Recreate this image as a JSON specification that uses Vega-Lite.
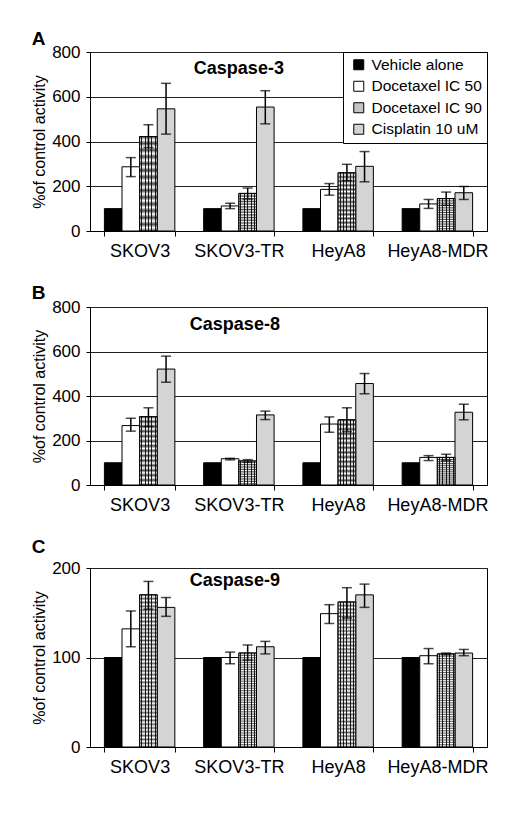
{
  "$schema": "https://vega.github.io/schema/vega-lite/v6.json",
  "padding": {"left": 31, "top": 29, "right": 5, "bottom": 5},
  "spacing": 22,
  "datasets": {
    "A": [
      {"cell": "SKOV3", "t": "Vehicle alone", "v": 100},
      {"cell": "SKOV3", "t": "Docetaxel IC 50", "v": 287, "lo": 243, "hi": 328},
      {"cell": "SKOV3", "t": "Docetaxel IC 90", "v": 422, "lo": 373, "hi": 475},
      {"cell": "SKOV3", "t": "Cisplatin 10 uM", "v": 546, "lo": 433, "hi": 660},
      {"cell": "SKOV3-TR", "t": "Vehicle alone", "v": 100},
      {"cell": "SKOV3-TR", "t": "Docetaxel IC 50", "v": 112, "lo": 100, "hi": 124},
      {"cell": "SKOV3-TR", "t": "Docetaxel IC 90", "v": 168, "lo": 143, "hi": 192},
      {"cell": "SKOV3-TR", "t": "Cisplatin 10 uM", "v": 554, "lo": 479, "hi": 627},
      {"cell": "HeyA8", "t": "Vehicle alone", "v": 100},
      {"cell": "HeyA8", "t": "Docetaxel IC 50", "v": 186, "lo": 160, "hi": 212},
      {"cell": "HeyA8", "t": "Docetaxel IC 90", "v": 260, "lo": 225, "hi": 298},
      {"cell": "HeyA8", "t": "Cisplatin 10 uM", "v": 289, "lo": 220, "hi": 355},
      {"cell": "HeyA8-MDR", "t": "Vehicle alone", "v": 100},
      {"cell": "HeyA8-MDR", "t": "Docetaxel IC 50", "v": 121, "lo": 101, "hi": 141},
      {"cell": "HeyA8-MDR", "t": "Docetaxel IC 90", "v": 145, "lo": 115, "hi": 174},
      {"cell": "HeyA8-MDR", "t": "Cisplatin 10 uM", "v": 171, "lo": 141, "hi": 199}
    ],
    "B": [
      {"cell": "SKOV3", "t": "Vehicle alone", "v": 100},
      {"cell": "SKOV3", "t": "Docetaxel IC 50", "v": 267, "lo": 242, "hi": 300},
      {"cell": "SKOV3", "t": "Docetaxel IC 90", "v": 307, "lo": 263, "hi": 347},
      {"cell": "SKOV3", "t": "Cisplatin 10 uM", "v": 521, "lo": 462, "hi": 579},
      {"cell": "SKOV3-TR", "t": "Vehicle alone", "v": 100},
      {"cell": "SKOV3-TR", "t": "Docetaxel IC 50", "v": 118, "lo": 113, "hi": 120},
      {"cell": "SKOV3-TR", "t": "Docetaxel IC 90", "v": 108, "lo": 102, "hi": 114},
      {"cell": "SKOV3-TR", "t": "Cisplatin 10 uM", "v": 315, "lo": 294, "hi": 332},
      {"cell": "HeyA8", "t": "Vehicle alone", "v": 100},
      {"cell": "HeyA8", "t": "Docetaxel IC 50", "v": 274, "lo": 237, "hi": 306},
      {"cell": "HeyA8", "t": "Docetaxel IC 90", "v": 293, "lo": 240, "hi": 347},
      {"cell": "HeyA8", "t": "Cisplatin 10 uM", "v": 456, "lo": 410, "hi": 501},
      {"cell": "HeyA8-MDR", "t": "Vehicle alone", "v": 100},
      {"cell": "HeyA8-MDR", "t": "Docetaxel IC 50", "v": 124, "lo": 110, "hi": 132},
      {"cell": "HeyA8-MDR", "t": "Docetaxel IC 90", "v": 124, "lo": 110, "hi": 138},
      {"cell": "HeyA8-MDR", "t": "Cisplatin 10 uM", "v": 327, "lo": 293, "hi": 363}
    ],
    "C": [
      {"cell": "SKOV3", "t": "Vehicle alone", "v": 100},
      {"cell": "SKOV3", "t": "Docetaxel IC 50", "v": 132, "lo": 112, "hi": 152},
      {"cell": "SKOV3", "t": "Docetaxel IC 90", "v": 170, "lo": 154, "hi": 185},
      {"cell": "SKOV3", "t": "Cisplatin 10 uM", "v": 156, "lo": 146, "hi": 167},
      {"cell": "SKOV3-TR", "t": "Vehicle alone", "v": 100},
      {"cell": "SKOV3-TR", "t": "Docetaxel IC 50", "v": 100, "lo": 93, "hi": 106},
      {"cell": "SKOV3-TR", "t": "Docetaxel IC 90", "v": 105, "lo": 97, "hi": 114},
      {"cell": "SKOV3-TR", "t": "Cisplatin 10 uM", "v": 112, "lo": 104, "hi": 118},
      {"cell": "HeyA8", "t": "Vehicle alone", "v": 100},
      {"cell": "HeyA8", "t": "Docetaxel IC 50", "v": 149, "lo": 138, "hi": 159},
      {"cell": "HeyA8", "t": "Docetaxel IC 90", "v": 162, "lo": 144, "hi": 178},
      {"cell": "HeyA8", "t": "Cisplatin 10 uM", "v": 170, "lo": 156, "hi": 182},
      {"cell": "HeyA8-MDR", "t": "Vehicle alone", "v": 100},
      {"cell": "HeyA8-MDR", "t": "Docetaxel IC 50", "v": 102, "lo": 93, "hi": 110},
      {"cell": "HeyA8-MDR", "t": "Docetaxel IC 90", "v": 104, "lo": 103, "hi": 105},
      {"cell": "HeyA8-MDR", "t": "Cisplatin 10 uM", "v": 105, "lo": 102, "hi": 109}
    ]
  },
  "vconcat": [
    {
      "data": {"name": "A"},
      "title": {"text": "A", "anchor": "start", "frame": "bounds", "fontSize": 19, "fontWeight": "bold", "offset": -5.5},
      "width": 397, "height": 179,
      "encoding": {
        "x": {"field": "cell", "type": "nominal", "sort": ["SKOV3", "SKOV3-TR", "HeyA8", "HeyA8-MDR"], "scale": {"paddingInner": 0.29, "paddingOuter": 0.145},
          "axis": {"title": null, "labelAngle": 0, "labelFontSize": 18, "labelPadding": 6, "tickBand": "extent", "tickSize": 5}}
      },
      "layer": [
        {"mark": {"type": "bar", "stroke": "black", "strokeWidth": 1},
          "encoding": {
            "xOffset": {"field": "t", "type": "nominal", "scale": {"domain": ["Vehicle alone", "Docetaxel IC 50", "Docetaxel IC 90", "Cisplatin 10 uM"], "paddingInner": 0}},
            "y": {"field": "v", "type": "quantitative", "title": "%of control activity", "scale": {"domain": [0, 800]},
              "axis": {"values": [0, 200, 400, 600, 800], "grid": true, "gridColor": "#222", "tickSize": 4, "labelFontSize": 17, "labelPadding": 6, "titleFontSize": 16, "titlePadding": 4, "titleFontWeight": "normal"}},
            "color": {"field": "t", "type": "nominal", "scale": {"domain": ["Vehicle alone", "Docetaxel IC 50", "Docetaxel IC 90", "Cisplatin 10 uM"], "range": ["#000000", "#ffffff", "#c4c4c4", "#d4d4d4"]},
              "legend": {"title": null, "orient": "top-right", "offset": 0, "strokeColor": "black", "fillColor": "white", "padding": 5, "symbolOffset": 3, "symbolType": "square", "symbolSize": 100, "symbolStrokeColor": "black", "symbolStrokeWidth": 1, "labelFontSize": 15.5, "labelColor": "black", "labelOffset": 5, "rowPadding": 4.5, "labelLimit": 200}}
          }},
        {"transform": [{"filter": "datum.t === 'Docetaxel IC 90'"}],
          "mark": {"type": "bar", "fill": {"gradient": "linear", "x1": 0, "y1": 0, "x2": 1, "y2": 0, "stops": [
            {"offset": 0, "color": "white"}, {"offset": 0.08, "color": "white"}, {"offset": 0.08, "color": "#222"}, {"offset": 0.14, "color": "#222"}, {"offset": 0.14, "color": "white"},
            {"offset": 0.28, "color": "white"}, {"offset": 0.28, "color": "#222"}, {"offset": 0.34, "color": "#222"}, {"offset": 0.34, "color": "white"},
            {"offset": 0.47, "color": "white"}, {"offset": 0.47, "color": "#222"}, {"offset": 0.53, "color": "#222"}, {"offset": 0.53, "color": "white"},
            {"offset": 0.66, "color": "white"}, {"offset": 0.66, "color": "#222"}, {"offset": 0.72, "color": "#222"}, {"offset": 0.72, "color": "white"},
            {"offset": 0.86, "color": "white"}, {"offset": 0.86, "color": "#222"}, {"offset": 0.92, "color": "#222"}, {"offset": 0.92, "color": "white"}, {"offset": 1, "color": "white"}]}},
          "encoding": {
            "xOffset": {"field": "t", "type": "nominal", "scale": {"domain": ["Vehicle alone", "Docetaxel IC 50", "Docetaxel IC 90", "Cisplatin 10 uM"], "paddingInner": 0}},
            "y": {"field": "v", "type": "quantitative", "title": "%of control activity"}
          }},
        {"transform": [{"filter": "datum.t === 'Docetaxel IC 90'"}],
          "mark": {"type": "bar", "stroke": "black", "strokeWidth": 1, "fill": {"gradient": "linear", "x1": 0, "y1": 0, "x2": 0, "y2": 1, "stops": [
            {"offset": 0, "color": "rgba(0,0,0,0.7)"}, {"offset": 0.0357, "color": "rgba(0,0,0,0)"}, {"offset": 0.0714, "color": "rgba(0,0,0,0.7)"}, {"offset": 0.1071, "color": "rgba(0,0,0,0)"},
            {"offset": 0.1429, "color": "rgba(0,0,0,0.7)"}, {"offset": 0.1786, "color": "rgba(0,0,0,0)"}, {"offset": 0.2143, "color": "rgba(0,0,0,0.7)"}, {"offset": 0.25, "color": "rgba(0,0,0,0)"},
            {"offset": 0.2857, "color": "rgba(0,0,0,0.7)"}, {"offset": 0.3214, "color": "rgba(0,0,0,0)"}, {"offset": 0.3571, "color": "rgba(0,0,0,0.7)"}, {"offset": 0.3929, "color": "rgba(0,0,0,0)"},
            {"offset": 0.4286, "color": "rgba(0,0,0,0.7)"}, {"offset": 0.4643, "color": "rgba(0,0,0,0)"}, {"offset": 0.5, "color": "rgba(0,0,0,0.7)"}, {"offset": 0.5357, "color": "rgba(0,0,0,0)"},
            {"offset": 0.5714, "color": "rgba(0,0,0,0.7)"}, {"offset": 0.6071, "color": "rgba(0,0,0,0)"}, {"offset": 0.6429, "color": "rgba(0,0,0,0.7)"}, {"offset": 0.6786, "color": "rgba(0,0,0,0)"},
            {"offset": 0.7143, "color": "rgba(0,0,0,0.7)"}, {"offset": 0.75, "color": "rgba(0,0,0,0)"}, {"offset": 0.7857, "color": "rgba(0,0,0,0.7)"}, {"offset": 0.8214, "color": "rgba(0,0,0,0)"},
            {"offset": 0.8571, "color": "rgba(0,0,0,0.7)"}, {"offset": 0.8929, "color": "rgba(0,0,0,0)"}, {"offset": 0.9286, "color": "rgba(0,0,0,0.7)"}, {"offset": 0.9643, "color": "rgba(0,0,0,0)"},
            {"offset": 1, "color": "rgba(0,0,0,0.7)"}]}},
          "encoding": {
            "xOffset": {"field": "t", "type": "nominal", "scale": {"domain": ["Vehicle alone", "Docetaxel IC 50", "Docetaxel IC 90", "Cisplatin 10 uM"], "paddingInner": 0}},
            "y": {"field": "v", "type": "quantitative", "title": "%of control activity"}
          }},
        {"transform": [{"filter": "datum.lo != null"}],
          "mark": {"type": "rule", "color": "black", "strokeWidth": 1.5},
          "encoding": {
            "xOffset": {"field": "t", "type": "nominal", "scale": {"domain": ["Vehicle alone", "Docetaxel IC 50", "Docetaxel IC 90", "Cisplatin 10 uM"], "paddingInner": 0}},
            "y": {"field": "lo", "type": "quantitative", "title": "%of control activity"}, "y2": {"field": "hi"}
          }},
        {"transform": [{"filter": "datum.lo != null"}],
          "mark": {"type": "tick", "color": "black", "thickness": 1.5, "size": 10},
          "encoding": {
            "xOffset": {"field": "t", "type": "nominal", "scale": {"domain": ["Vehicle alone", "Docetaxel IC 50", "Docetaxel IC 90", "Cisplatin 10 uM"], "paddingInner": 0}},
            "y": {"field": "lo", "type": "quantitative", "title": "%of control activity"}
          }},
        {"transform": [{"filter": "datum.lo != null"}],
          "mark": {"type": "tick", "color": "black", "thickness": 1.5, "size": 10},
          "encoding": {
            "xOffset": {"field": "t", "type": "nominal", "scale": {"domain": ["Vehicle alone", "Docetaxel IC 50", "Docetaxel IC 90", "Cisplatin 10 uM"], "paddingInner": 0}},
            "y": {"field": "hi", "type": "quantitative", "title": "%of control activity"}
          }},
        {"data": {"values": [{"cell": "SKOV3-TR", "ty": 722, "label": "Caspase-3"}]},
          "mark": {"type": "text", "fontSize": 18, "fontWeight": "bold", "color": "black"},
          "encoding": {"y": {"field": "ty", "type": "quantitative", "title": "%of control activity"}, "text": {"field": "label"}}}
      ]
    },
    {
      "data": {"name": "B"},
      "title": {"text": "B", "anchor": "start", "frame": "bounds", "fontSize": 19, "fontWeight": "bold", "offset": -4.5},
      "width": 397, "height": 178,
      "encoding": {
        "x": {"field": "cell", "type": "nominal", "sort": ["SKOV3", "SKOV3-TR", "HeyA8", "HeyA8-MDR"], "scale": {"paddingInner": 0.29, "paddingOuter": 0.145},
          "axis": {"title": null, "labelAngle": 0, "labelFontSize": 18, "labelPadding": 6, "tickBand": "extent", "tickSize": 5}}
      },
      "layer": [
        {"mark": {"type": "bar", "stroke": "black", "strokeWidth": 1},
          "encoding": {
            "xOffset": {"field": "t", "type": "nominal", "scale": {"domain": ["Vehicle alone", "Docetaxel IC 50", "Docetaxel IC 90", "Cisplatin 10 uM"], "paddingInner": 0}},
            "y": {"field": "v", "type": "quantitative", "title": "%of control activity", "scale": {"domain": [0, 800]},
              "axis": {"values": [0, 200, 400, 600, 800], "grid": true, "gridColor": "#222", "tickSize": 4, "labelFontSize": 17, "labelPadding": 6, "titleFontSize": 16, "titlePadding": 4, "titleFontWeight": "normal"}},
            "color": {"field": "t", "type": "nominal", "scale": {"domain": ["Vehicle alone", "Docetaxel IC 50", "Docetaxel IC 90", "Cisplatin 10 uM"], "range": ["#000000", "#ffffff", "#c4c4c4", "#d4d4d4"]}, "legend": null}
          }},
        {"transform": [{"filter": "datum.t === 'Docetaxel IC 90'"}],
          "mark": {"type": "bar", "fill": {"gradient": "linear", "x1": 0, "y1": 0, "x2": 1, "y2": 0, "stops": [
            {"offset": 0, "color": "white"}, {"offset": 0.08, "color": "white"}, {"offset": 0.08, "color": "#222"}, {"offset": 0.14, "color": "#222"}, {"offset": 0.14, "color": "white"},
            {"offset": 0.28, "color": "white"}, {"offset": 0.28, "color": "#222"}, {"offset": 0.34, "color": "#222"}, {"offset": 0.34, "color": "white"},
            {"offset": 0.47, "color": "white"}, {"offset": 0.47, "color": "#222"}, {"offset": 0.53, "color": "#222"}, {"offset": 0.53, "color": "white"},
            {"offset": 0.66, "color": "white"}, {"offset": 0.66, "color": "#222"}, {"offset": 0.72, "color": "#222"}, {"offset": 0.72, "color": "white"},
            {"offset": 0.86, "color": "white"}, {"offset": 0.86, "color": "#222"}, {"offset": 0.92, "color": "#222"}, {"offset": 0.92, "color": "white"}, {"offset": 1, "color": "white"}]}},
          "encoding": {
            "xOffset": {"field": "t", "type": "nominal", "scale": {"domain": ["Vehicle alone", "Docetaxel IC 50", "Docetaxel IC 90", "Cisplatin 10 uM"], "paddingInner": 0}},
            "y": {"field": "v", "type": "quantitative", "title": "%of control activity"}
          }},
        {"transform": [{"filter": "datum.t === 'Docetaxel IC 90'"}],
          "mark": {"type": "bar", "stroke": "black", "strokeWidth": 1, "fill": {"gradient": "linear", "x1": 0, "y1": 0, "x2": 0, "y2": 1, "stops": [
            {"offset": 0, "color": "rgba(0,0,0,0.7)"}, {"offset": 0.0357, "color": "rgba(0,0,0,0)"}, {"offset": 0.0714, "color": "rgba(0,0,0,0.7)"}, {"offset": 0.1071, "color": "rgba(0,0,0,0)"},
            {"offset": 0.1429, "color": "rgba(0,0,0,0.7)"}, {"offset": 0.1786, "color": "rgba(0,0,0,0)"}, {"offset": 0.2143, "color": "rgba(0,0,0,0.7)"}, {"offset": 0.25, "color": "rgba(0,0,0,0)"},
            {"offset": 0.2857, "color": "rgba(0,0,0,0.7)"}, {"offset": 0.3214, "color": "rgba(0,0,0,0)"}, {"offset": 0.3571, "color": "rgba(0,0,0,0.7)"}, {"offset": 0.3929, "color": "rgba(0,0,0,0)"},
            {"offset": 0.4286, "color": "rgba(0,0,0,0.7)"}, {"offset": 0.4643, "color": "rgba(0,0,0,0)"}, {"offset": 0.5, "color": "rgba(0,0,0,0.7)"}, {"offset": 0.5357, "color": "rgba(0,0,0,0)"},
            {"offset": 0.5714, "color": "rgba(0,0,0,0.7)"}, {"offset": 0.6071, "color": "rgba(0,0,0,0)"}, {"offset": 0.6429, "color": "rgba(0,0,0,0.7)"}, {"offset": 0.6786, "color": "rgba(0,0,0,0)"},
            {"offset": 0.7143, "color": "rgba(0,0,0,0.7)"}, {"offset": 0.75, "color": "rgba(0,0,0,0)"}, {"offset": 0.7857, "color": "rgba(0,0,0,0.7)"}, {"offset": 0.8214, "color": "rgba(0,0,0,0)"},
            {"offset": 0.8571, "color": "rgba(0,0,0,0.7)"}, {"offset": 0.8929, "color": "rgba(0,0,0,0)"}, {"offset": 0.9286, "color": "rgba(0,0,0,0.7)"}, {"offset": 0.9643, "color": "rgba(0,0,0,0)"},
            {"offset": 1, "color": "rgba(0,0,0,0.7)"}]}},
          "encoding": {
            "xOffset": {"field": "t", "type": "nominal", "scale": {"domain": ["Vehicle alone", "Docetaxel IC 50", "Docetaxel IC 90", "Cisplatin 10 uM"], "paddingInner": 0}},
            "y": {"field": "v", "type": "quantitative", "title": "%of control activity"}
          }},
        {"transform": [{"filter": "datum.lo != null"}],
          "mark": {"type": "rule", "color": "black", "strokeWidth": 1.5},
          "encoding": {
            "xOffset": {"field": "t", "type": "nominal", "scale": {"domain": ["Vehicle alone", "Docetaxel IC 50", "Docetaxel IC 90", "Cisplatin 10 uM"], "paddingInner": 0}},
            "y": {"field": "lo", "type": "quantitative", "title": "%of control activity"}, "y2": {"field": "hi"}
          }},
        {"transform": [{"filter": "datum.lo != null"}],
          "mark": {"type": "tick", "color": "black", "thickness": 1.5, "size": 10},
          "encoding": {
            "xOffset": {"field": "t", "type": "nominal", "scale": {"domain": ["Vehicle alone", "Docetaxel IC 50", "Docetaxel IC 90", "Cisplatin 10 uM"], "paddingInner": 0}},
            "y": {"field": "lo", "type": "quantitative", "title": "%of control activity"}
          }},
        {"transform": [{"filter": "datum.lo != null"}],
          "mark": {"type": "tick", "color": "black", "thickness": 1.5, "size": 10},
          "encoding": {
            "xOffset": {"field": "t", "type": "nominal", "scale": {"domain": ["Vehicle alone", "Docetaxel IC 50", "Docetaxel IC 90", "Cisplatin 10 uM"], "paddingInner": 0}},
            "y": {"field": "hi", "type": "quantitative", "title": "%of control activity"}
          }},
        {"data": {"values": [{"cell": "SKOV3-TR", "ty": 719, "label": "Caspase-8"}]},
          "mark": {"type": "text", "fontSize": 18, "fontWeight": "bold", "color": "black", "dx": -4},
          "encoding": {"y": {"field": "ty", "type": "quantitative", "title": "%of control activity"}, "text": {"field": "label"}}}
      ]
    },
    {
      "data": {"name": "C"},
      "title": {"text": "C", "anchor": "start", "frame": "bounds", "fontSize": 19, "fontWeight": "bold", "offset": 2.5},
      "width": 397, "height": 179,
      "encoding": {
        "x": {"field": "cell", "type": "nominal", "sort": ["SKOV3", "SKOV3-TR", "HeyA8", "HeyA8-MDR"], "scale": {"paddingInner": 0.29, "paddingOuter": 0.145},
          "axis": {"title": null, "labelAngle": 0, "labelFontSize": 18, "labelPadding": 6, "tickBand": "extent", "tickSize": 5}}
      },
      "layer": [
        {"mark": {"type": "bar", "stroke": "black", "strokeWidth": 1},
          "encoding": {
            "xOffset": {"field": "t", "type": "nominal", "scale": {"domain": ["Vehicle alone", "Docetaxel IC 50", "Docetaxel IC 90", "Cisplatin 10 uM"], "paddingInner": 0}},
            "y": {"field": "v", "type": "quantitative", "title": "%of control activity", "scale": {"domain": [0, 200]},
              "axis": {"values": [0, 100, 200], "grid": true, "gridColor": "#222", "tickSize": 4, "labelFontSize": 17, "labelPadding": 6, "titleFontSize": 16, "titlePadding": 4, "titleFontWeight": "normal"}},
            "color": {"field": "t", "type": "nominal", "scale": {"domain": ["Vehicle alone", "Docetaxel IC 50", "Docetaxel IC 90", "Cisplatin 10 uM"], "range": ["#000000", "#ffffff", "#c4c4c4", "#d4d4d4"]}, "legend": null}
          }},
        {"transform": [{"filter": "datum.t === 'Docetaxel IC 90'"}],
          "mark": {"type": "bar", "fill": {"gradient": "linear", "x1": 0, "y1": 0, "x2": 1, "y2": 0, "stops": [
            {"offset": 0, "color": "white"}, {"offset": 0.08, "color": "white"}, {"offset": 0.08, "color": "#222"}, {"offset": 0.14, "color": "#222"}, {"offset": 0.14, "color": "white"},
            {"offset": 0.28, "color": "white"}, {"offset": 0.28, "color": "#222"}, {"offset": 0.34, "color": "#222"}, {"offset": 0.34, "color": "white"},
            {"offset": 0.47, "color": "white"}, {"offset": 0.47, "color": "#222"}, {"offset": 0.53, "color": "#222"}, {"offset": 0.53, "color": "white"},
            {"offset": 0.66, "color": "white"}, {"offset": 0.66, "color": "#222"}, {"offset": 0.72, "color": "#222"}, {"offset": 0.72, "color": "white"},
            {"offset": 0.86, "color": "white"}, {"offset": 0.86, "color": "#222"}, {"offset": 0.92, "color": "#222"}, {"offset": 0.92, "color": "white"}, {"offset": 1, "color": "white"}]}},
          "encoding": {
            "xOffset": {"field": "t", "type": "nominal", "scale": {"domain": ["Vehicle alone", "Docetaxel IC 50", "Docetaxel IC 90", "Cisplatin 10 uM"], "paddingInner": 0}},
            "y": {"field": "v", "type": "quantitative", "title": "%of control activity"}
          }},
        {"transform": [{"filter": "datum.t === 'Docetaxel IC 90'"}],
          "mark": {"type": "bar", "stroke": "black", "strokeWidth": 1, "fill": {"gradient": "linear", "x1": 0, "y1": 0, "x2": 0, "y2": 1, "stops": [
            {"offset": 0, "color": "rgba(0,0,0,0.6)"}, {"offset": 0.0125, "color": "rgba(0,0,0,0)"}, {"offset": 0.025, "color": "rgba(0,0,0,0.6)"}, {"offset": 0.0375, "color": "rgba(0,0,0,0)"},
            {"offset": 0.05, "color": "rgba(0,0,0,0.6)"}, {"offset": 0.0625, "color": "rgba(0,0,0,0)"}, {"offset": 0.075, "color": "rgba(0,0,0,0.6)"}, {"offset": 0.0875, "color": "rgba(0,0,0,0)"},
            {"offset": 0.1, "color": "rgba(0,0,0,0.6)"}, {"offset": 0.1125, "color": "rgba(0,0,0,0)"}, {"offset": 0.125, "color": "rgba(0,0,0,0.6)"}, {"offset": 0.1375, "color": "rgba(0,0,0,0)"},
            {"offset": 0.15, "color": "rgba(0,0,0,0.6)"}, {"offset": 0.1625, "color": "rgba(0,0,0,0)"}, {"offset": 0.175, "color": "rgba(0,0,0,0.6)"}, {"offset": 0.1875, "color": "rgba(0,0,0,0)"},
            {"offset": 0.2, "color": "rgba(0,0,0,0.6)"}, {"offset": 0.2125, "color": "rgba(0,0,0,0)"}, {"offset": 0.225, "color": "rgba(0,0,0,0.6)"}, {"offset": 0.2375, "color": "rgba(0,0,0,0)"},
            {"offset": 0.25, "color": "rgba(0,0,0,0.6)"}, {"offset": 0.2625, "color": "rgba(0,0,0,0)"}, {"offset": 0.275, "color": "rgba(0,0,0,0.6)"}, {"offset": 0.2875, "color": "rgba(0,0,0,0)"},
            {"offset": 0.3, "color": "rgba(0,0,0,0.6)"}, {"offset": 0.3125, "color": "rgba(0,0,0,0)"}, {"offset": 0.325, "color": "rgba(0,0,0,0.6)"}, {"offset": 0.3375, "color": "rgba(0,0,0,0)"},
            {"offset": 0.35, "color": "rgba(0,0,0,0.6)"}, {"offset": 0.3625, "color": "rgba(0,0,0,0)"}, {"offset": 0.375, "color": "rgba(0,0,0,0.6)"}, {"offset": 0.3875, "color": "rgba(0,0,0,0)"},
            {"offset": 0.4, "color": "rgba(0,0,0,0.6)"}, {"offset": 0.4125, "color": "rgba(0,0,0,0)"}, {"offset": 0.425, "color": "rgba(0,0,0,0.6)"}, {"offset": 0.4375, "color": "rgba(0,0,0,0)"},
            {"offset": 0.45, "color": "rgba(0,0,0,0.6)"}, {"offset": 0.4625, "color": "rgba(0,0,0,0)"}, {"offset": 0.475, "color": "rgba(0,0,0,0.6)"}, {"offset": 0.4875, "color": "rgba(0,0,0,0)"},
            {"offset": 0.5, "color": "rgba(0,0,0,0.6)"}, {"offset": 0.5125, "color": "rgba(0,0,0,0)"}, {"offset": 0.525, "color": "rgba(0,0,0,0.6)"}, {"offset": 0.5375, "color": "rgba(0,0,0,0)"},
            {"offset": 0.55, "color": "rgba(0,0,0,0.6)"}, {"offset": 0.5625, "color": "rgba(0,0,0,0)"}, {"offset": 0.575, "color": "rgba(0,0,0,0.6)"}, {"offset": 0.5875, "color": "rgba(0,0,0,0)"},
            {"offset": 0.6, "color": "rgba(0,0,0,0.6)"}, {"offset": 0.6125, "color": "rgba(0,0,0,0)"}, {"offset": 0.625, "color": "rgba(0,0,0,0.6)"}, {"offset": 0.6375, "color": "rgba(0,0,0,0)"},
            {"offset": 0.65, "color": "rgba(0,0,0,0.6)"}, {"offset": 0.6625, "color": "rgba(0,0,0,0)"}, {"offset": 0.675, "color": "rgba(0,0,0,0.6)"}, {"offset": 0.6875, "color": "rgba(0,0,0,0)"},
            {"offset": 0.7, "color": "rgba(0,0,0,0.6)"}, {"offset": 0.7125, "color": "rgba(0,0,0,0)"}, {"offset": 0.725, "color": "rgba(0,0,0,0.6)"}, {"offset": 0.7375, "color": "rgba(0,0,0,0)"},
            {"offset": 0.75, "color": "rgba(0,0,0,0.6)"}, {"offset": 0.7625, "color": "rgba(0,0,0,0)"}, {"offset": 0.775, "color": "rgba(0,0,0,0.6)"}, {"offset": 0.7875, "color": "rgba(0,0,0,0)"},
            {"offset": 0.8, "color": "rgba(0,0,0,0.6)"}, {"offset": 0.8125, "color": "rgba(0,0,0,0)"}, {"offset": 0.825, "color": "rgba(0,0,0,0.6)"}, {"offset": 0.8375, "color": "rgba(0,0,0,0)"},
            {"offset": 0.85, "color": "rgba(0,0,0,0.6)"}, {"offset": 0.8625, "color": "rgba(0,0,0,0)"}, {"offset": 0.875, "color": "rgba(0,0,0,0.6)"}, {"offset": 0.8875, "color": "rgba(0,0,0,0)"},
            {"offset": 0.9, "color": "rgba(0,0,0,0.6)"}, {"offset": 0.9125, "color": "rgba(0,0,0,0)"}, {"offset": 0.925, "color": "rgba(0,0,0,0.6)"}, {"offset": 0.9375, "color": "rgba(0,0,0,0)"},
            {"offset": 0.95, "color": "rgba(0,0,0,0.6)"}, {"offset": 0.9625, "color": "rgba(0,0,0,0)"}, {"offset": 0.975, "color": "rgba(0,0,0,0.6)"}, {"offset": 0.9875, "color": "rgba(0,0,0,0)"},
            {"offset": 1, "color": "rgba(0,0,0,0.6)"}]}},
          "encoding": {
            "xOffset": {"field": "t", "type": "nominal", "scale": {"domain": ["Vehicle alone", "Docetaxel IC 50", "Docetaxel IC 90", "Cisplatin 10 uM"], "paddingInner": 0}},
            "y": {"field": "v", "type": "quantitative", "title": "%of control activity"}
          }},
        {"transform": [{"filter": "datum.lo != null"}],
          "mark": {"type": "rule", "color": "black", "strokeWidth": 1.5},
          "encoding": {
            "xOffset": {"field": "t", "type": "nominal", "scale": {"domain": ["Vehicle alone", "Docetaxel IC 50", "Docetaxel IC 90", "Cisplatin 10 uM"], "paddingInner": 0}},
            "y": {"field": "lo", "type": "quantitative", "title": "%of control activity"}, "y2": {"field": "hi"}
          }},
        {"transform": [{"filter": "datum.lo != null"}],
          "mark": {"type": "tick", "color": "black", "thickness": 1.5, "size": 10},
          "encoding": {
            "xOffset": {"field": "t", "type": "nominal", "scale": {"domain": ["Vehicle alone", "Docetaxel IC 50", "Docetaxel IC 90", "Cisplatin 10 uM"], "paddingInner": 0}},
            "y": {"field": "lo", "type": "quantitative", "title": "%of control activity"}
          }},
        {"transform": [{"filter": "datum.lo != null"}],
          "mark": {"type": "tick", "color": "black", "thickness": 1.5, "size": 10},
          "encoding": {
            "xOffset": {"field": "t", "type": "nominal", "scale": {"domain": ["Vehicle alone", "Docetaxel IC 50", "Docetaxel IC 90", "Cisplatin 10 uM"], "paddingInner": 0}},
            "y": {"field": "hi", "type": "quantitative", "title": "%of control activity"}
          }},
        {"data": {"values": [{"cell": "SKOV3-TR", "ty": 185, "label": "Caspase-9"}]},
          "mark": {"type": "text", "fontSize": 18, "fontWeight": "bold", "color": "black", "dx": -4},
          "encoding": {"y": {"field": "ty", "type": "quantitative", "title": "%of control activity"}, "text": {"field": "label"}}}
      ]
    }
  ],
  "resolve": {"scale": {"x": "independent", "y": "independent", "xOffset": "independent", "color": "independent"}, "legend": {"color": "independent"}},
  "config": {
    "font": "Liberation Sans",
    "view": {"stroke": "black", "strokeWidth": 1},
    "axis": {"labelColor": "black", "titleColor": "black", "tickColor": "black", "domainColor": "black", "labelFont": "Liberation Sans", "titleFont": "Liberation Sans"},
    "legend": {"labelFont": "Liberation Sans"},
    "title": {"color": "black", "font": "Liberation Sans"}
  }
}
